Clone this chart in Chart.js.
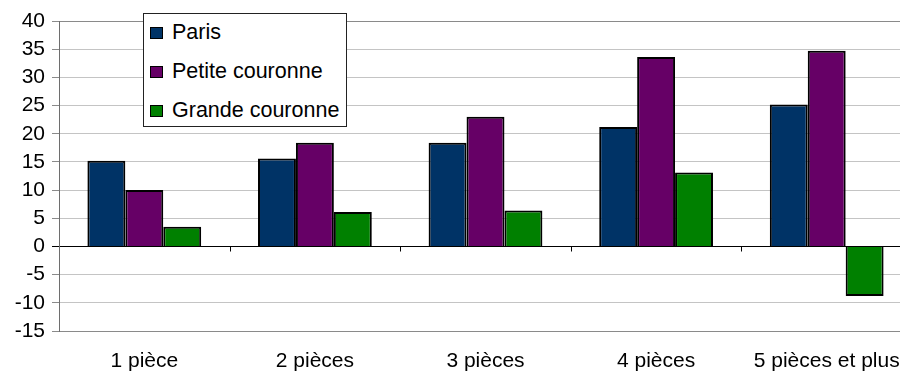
<!DOCTYPE html>
<html lang="fr">
<head>
<meta charset="utf-8">
<title>Évolution par nombre de pièces</title>
<script src="https://cdn.jsdelivr.net/npm/chart.js@4/dist/chart.umd.min.js"></script>
<style>
  html, body { margin: 0; padding: 0; background: #fff; overflow: hidden; }
  #wrap { position: relative; width: 900px; height: 371px; overflow: hidden; }
  #chart { position: absolute; left: 0; top: 0; }
  #legend {
    position: absolute; left: 143px; top: 13px; width: 204px; height: 114px;
    box-sizing: border-box; border: 1px solid #222; background: #fff;
    font-family: "Liberation Sans", Arial, sans-serif; font-size: 21.5px; color: #000;
  }
  #legend .item {
    position: absolute; left: 6px; height: 24px; line-height: 24px;
    padding-left: 22px; white-space: nowrap;
  }
  #legend .swatch {
    position: absolute; left: 0; top: 7px; width: 11px; height: 10px;
    border: 1px solid #000;
  }
</style>
</head>
<body>
<div id="wrap">
  <canvas id="chart" width="920" height="371"></canvas>
  <div id="legend"></div>
</div>
<script>
// Categories and series values
const categories = ['1 pièce', '2 pièces', '3 pièces', '4 pièces', '5 pièces et plus'];
const seriesNames = ['Paris', 'Petite couronne', 'Grande couronne'];
const paris = [15.2, 15.6, 18.4, 21.2, 25.2];
const petiteCouronne = [10.0, 18.4, 23.0, 33.6, 34.7];
const grandeCouronne = [3.5, 6.1, 6.4, 13.1, -8.8];
const seriesColors = ['#003366', '#660066', '#008000'];
const yMin = -15, yMax = 40, yStep = 5;

const FAMILY = '"Liberation Sans", Arial, sans-serif';

// Short tick marks hanging under the zero line at category boundaries
const zeroTicks = {
  id: 'zeroTicks',
  afterDatasetsDraw(chart) {
    const x = chart.scales.x, y = chart.scales.y;
    const y0 = Math.round(y.getPixelForValue(0)) + 0.5;
    const ctx = chart.ctx;
    ctx.save();
    ctx.strokeStyle = '#000';
    ctx.lineWidth = 1;
    ctx.beginPath();
    for (let i = 0; i < categories.length - 1; i++) {
      const bx = Math.round((x.getPixelForValue(i) + x.getPixelForValue(i + 1)) / 2) + 0.5;
      ctx.moveTo(bx, y0);
      ctx.lineTo(bx, y0 + 5);
    }
    ctx.stroke();
    ctx.restore();
  }
};

const datasets = [paris, petiteCouronne, grandeCouronne].map((vals, i) => ({
  label: seriesNames[i],
  data: vals,
  backgroundColor: seriesColors[i],
  borderColor: '#000',
  borderWidth: 2,
  categoryPercentage: 0.667,
  barPercentage: 1.0
}));

new Chart(document.getElementById('chart'), {
  type: 'bar',
  data: { labels: categories, datasets },
  options: {
    responsive: false,
    animation: false,
    devicePixelRatio: 1,
    layout: { padding: { top: 21, right: 8, left: 0, bottom: 0 } },
    plugins: { legend: { display: false }, tooltip: { enabled: false } },
    scales: {
      x: {
        grid: { display: false },
        border: { display: false },
        ticks: { font: { family: FAMILY, size: 21 }, color: '#000', padding: 10, maxRotation: 0, autoSkip: false },
        afterFit(s) { s.height = 40; }
      },
      y: {
        min: yMin, max: yMax,
        ticks: { stepSize: yStep, autoSkip: false, font: { family: FAMILY, size: 21 }, color: '#000', padding: 7 },
        grid: {
          color: c => c.tick.value === 0 ? '#000' : (c.tick.value === yMax || c.tick.value === yMin ? '#8a8a8a' : '#c4c4c4'),
          tickColor: c => c.tick.value === 0 ? '#000' : '#8a8a8a',
          tickLength: 7,
          lineWidth: 1
        },
        border: { color: '#6e6e6e', width: 1 },
        afterFit(s) { s.width = 59; }
      }
    }
  },
  plugins: [zeroTicks]
});

// Boxed legend listing the three series
const legend = document.getElementById('legend');
seriesNames.forEach((name, i) => {
  const item = document.createElement('div');
  item.className = 'item';
  item.style.top = (6 + i * 38.9) + 'px';
  const sw = document.createElement('span');
  sw.className = 'swatch';
  sw.style.background = seriesColors[i];
  item.appendChild(sw);
  item.appendChild(document.createTextNode(name));
  legend.appendChild(item);
});
</script>
</body>
</html>
